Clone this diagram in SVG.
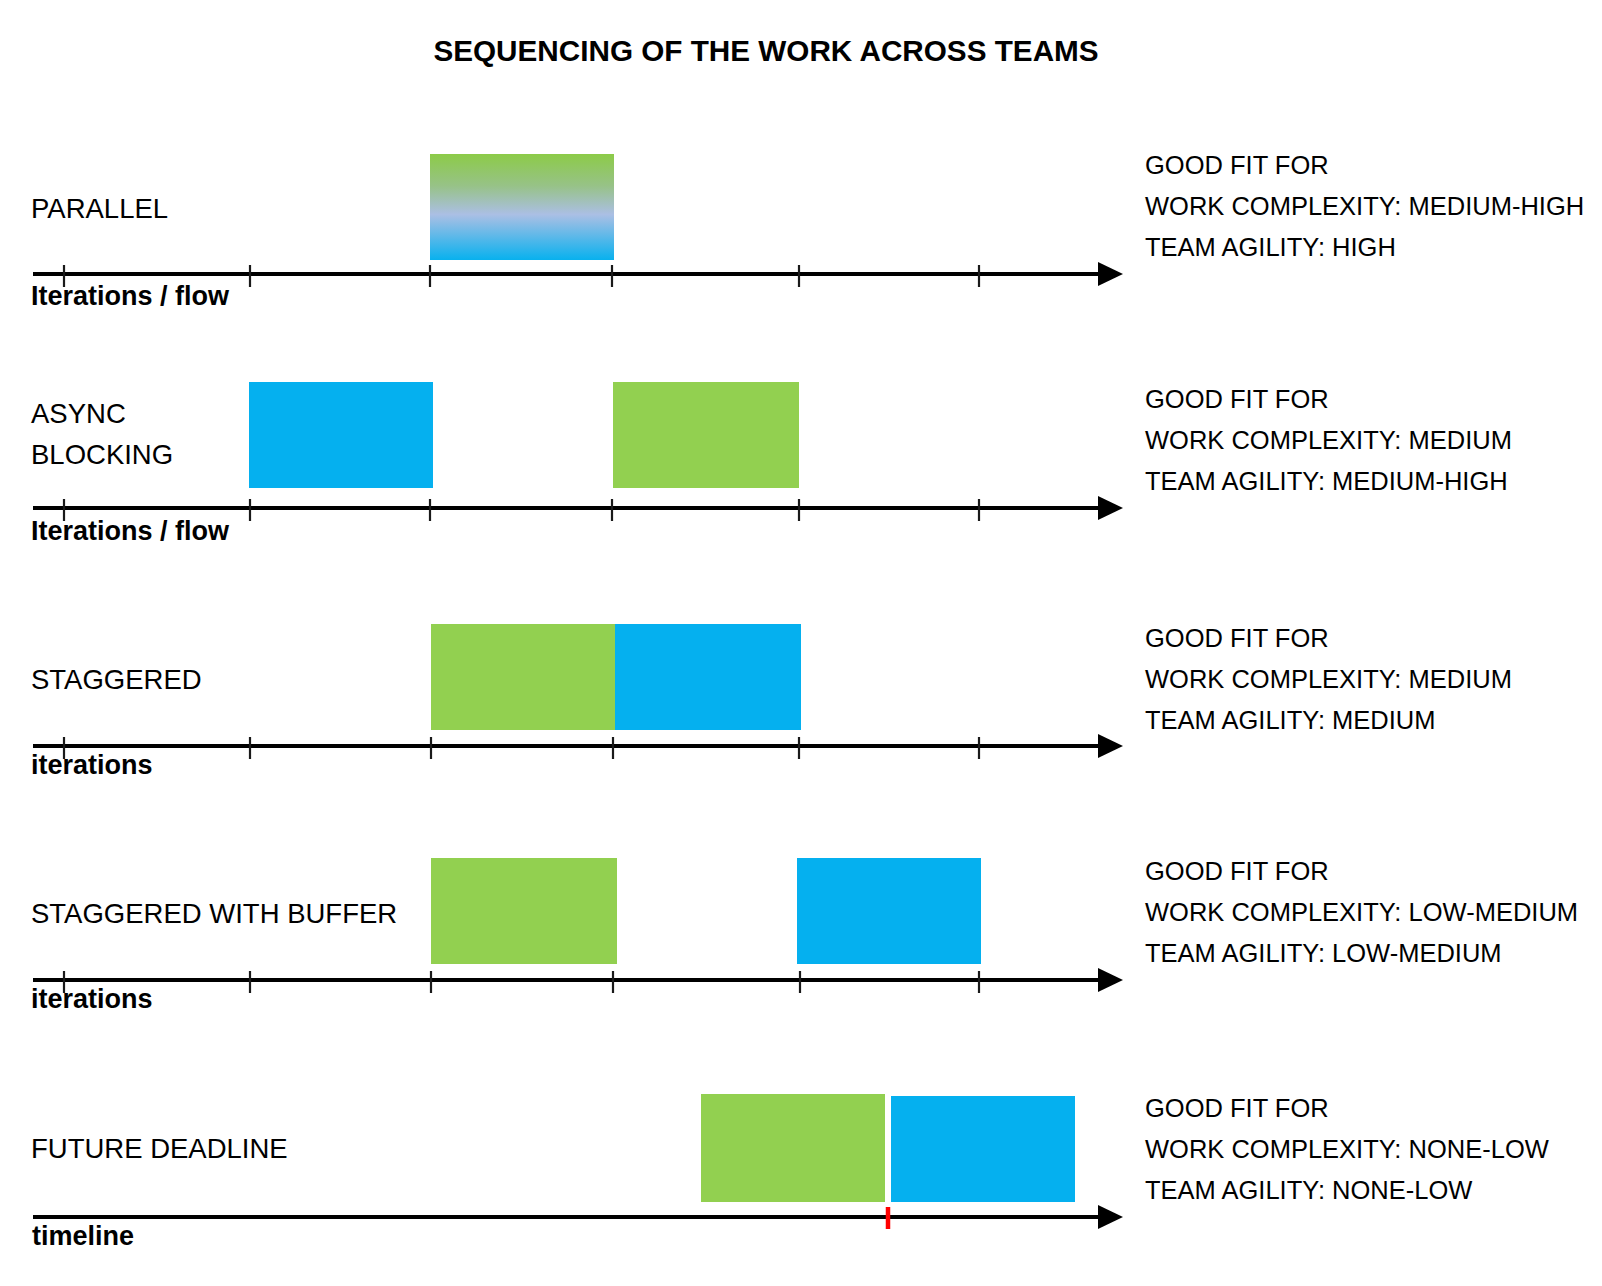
<svg xmlns="http://www.w3.org/2000/svg" width="1602" height="1286" viewBox="0 0 1602 1286">
  <style>
    text { font-family: "Liberation Sans", Arial, sans-serif; fill: #000; }
    .title { font-size: 29.7px; font-weight: bold; text-anchor: middle; }
    .lbl { font-size: 27.5px; }
    .fit { font-size: 25.5px; }
    .ax { font-size: 27px; font-weight: bold; }
    .axis { stroke: #000; stroke-width: 4; fill: none; marker-end: url(#arrow); }
    .tick { stroke: #1a1a1a; stroke-width: 2.2; }
    .green { fill: #92D050; }
    .blue { fill: #05B0EF; }
  </style>
  <defs>
    <linearGradient id="grad" x1="0" y1="0" x2="0" y2="1">
      <stop offset="0" stop-color="#8CCB48"/>
      <stop offset="0.3" stop-color="#97C287"/>
      <stop offset="0.57" stop-color="#ABBFE4"/>
      <stop offset="1" stop-color="#08B1EE"/>
    </linearGradient>
    <marker id="arrow" viewBox="0 0 25 24" refX="2" refY="12" markerWidth="25" markerHeight="24" markerUnits="userSpaceOnUse" orient="auto">
      <path d="M0,0 L25,12 L0,24 Z" fill="#000"/>
    </marker>
  </defs>

  <rect width="1602" height="1286" fill="#fff"/>

  <text class="title" x="766" y="61">SEQUENCING OF THE WORK ACROSS TEAMS</text>

  <g id="connectors">
    <line class="axis" x1="33" y1="274" x2="1100" y2="274"/>
    <line class="axis" x1="33" y1="508" x2="1100" y2="508"/>
    <line class="axis" x1="33" y1="746" x2="1100" y2="746"/>
    <line class="axis" x1="33" y1="980" x2="1100" y2="980"/>
    <line class="axis" x1="33" y1="1217" x2="1100" y2="1217"/>
  </g>

  <g id="row-parallel">
    <rect x="430" y="154" width="184" height="106" fill="url(#grad)"/>
    <text class="lbl" x="31" y="218">PARALLEL</text>
    <g class="ticks">
      <line class="tick" x1="64" y1="265" x2="64" y2="287"/>
      <line class="tick" x1="250" y1="265" x2="250" y2="287"/>
      <line class="tick" x1="430" y1="265" x2="430" y2="287"/>
      <line class="tick" x1="612" y1="265" x2="612" y2="287"/>
      <line class="tick" x1="799" y1="265" x2="799" y2="287"/>
      <line class="tick" x1="979" y1="265" x2="979" y2="287"/>
    </g>
    <text class="ax" x="31" y="305">Iterations / flow</text>
    <text class="fit" x="1145" y="174">GOOD FIT FOR</text>
    <text class="fit" x="1145" y="215">WORK COMPLEXITY: MEDIUM-HIGH</text>
    <text class="fit" x="1145" y="256">TEAM AGILITY: HIGH</text>
  </g>

  <g id="row-async">
    <rect class="blue" x="249" y="382" width="184" height="106"/>
    <rect class="green" x="613" y="382" width="186" height="106"/>
    <text class="lbl" x="31" y="423">ASYNC</text>
    <text class="lbl" x="31" y="464">BLOCKING</text>
    <g class="ticks">
      <line class="tick" x1="64" y1="499" x2="64" y2="521"/>
      <line class="tick" x1="250" y1="499" x2="250" y2="521"/>
      <line class="tick" x1="430" y1="499" x2="430" y2="521"/>
      <line class="tick" x1="612" y1="499" x2="612" y2="521"/>
      <line class="tick" x1="799" y1="499" x2="799" y2="521"/>
      <line class="tick" x1="979" y1="499" x2="979" y2="521"/>
    </g>
    <text class="ax" x="31" y="540">Iterations / flow</text>
    <text class="fit" x="1145" y="408">GOOD FIT FOR</text>
    <text class="fit" x="1145" y="449">WORK COMPLEXITY: MEDIUM</text>
    <text class="fit" x="1145" y="490">TEAM AGILITY: MEDIUM-HIGH</text>
  </g>

  <g id="row-staggered">
    <rect class="green" x="431" y="624" width="184" height="106"/>
    <rect class="blue" x="615" y="624" width="186" height="106"/>
    <text class="lbl" x="31" y="689">STAGGERED</text>
    <g class="ticks">
      <line class="tick" x1="64" y1="737" x2="64" y2="759"/>
      <line class="tick" x1="250" y1="737" x2="250" y2="759"/>
      <line class="tick" x1="431" y1="737" x2="431" y2="759"/>
      <line class="tick" x1="613" y1="737" x2="613" y2="759"/>
      <line class="tick" x1="799" y1="737" x2="799" y2="759"/>
      <line class="tick" x1="979" y1="737" x2="979" y2="759"/>
    </g>
    <text class="ax" x="31" y="774">iterations</text>
    <text class="fit" x="1145" y="647">GOOD FIT FOR</text>
    <text class="fit" x="1145" y="688">WORK COMPLEXITY: MEDIUM</text>
    <text class="fit" x="1145" y="729">TEAM AGILITY: MEDIUM</text>
  </g>

  <g id="row-staggered-buffer">
    <rect class="green" x="431" y="858" width="186" height="106"/>
    <rect class="blue" x="797" y="858" width="184" height="106"/>
    <text class="lbl" x="31" y="923">STAGGERED WITH BUFFER</text>
    <g class="ticks">
      <line class="tick" x1="64" y1="971" x2="64" y2="993"/>
      <line class="tick" x1="250" y1="971" x2="250" y2="993"/>
      <line class="tick" x1="431" y1="971" x2="431" y2="993"/>
      <line class="tick" x1="613" y1="971" x2="613" y2="993"/>
      <line class="tick" x1="800" y1="971" x2="800" y2="993"/>
      <line class="tick" x1="979" y1="971" x2="979" y2="993"/>
    </g>
    <text class="ax" x="31" y="1008">iterations</text>
    <text class="fit" x="1145" y="880">GOOD FIT FOR</text>
    <text class="fit" x="1145" y="921">WORK COMPLEXITY: LOW-MEDIUM</text>
    <text class="fit" x="1145" y="962">TEAM AGILITY: LOW-MEDIUM</text>
  </g>

  <g id="row-future-deadline">
    <rect class="green" x="701" y="1094" width="184" height="108"/>
    <rect class="blue" x="891" y="1096" width="184" height="106"/>
    <text class="lbl" x="31" y="1158">FUTURE DEADLINE</text>
    <line x1="888" y1="1207" x2="888" y2="1229" stroke="#FF0000" stroke-width="4.5"/>
    <text class="ax" x="32" y="1245">timeline</text>
    <text class="fit" x="1145" y="1117">GOOD FIT FOR</text>
    <text class="fit" x="1145" y="1158">WORK COMPLEXITY: NONE-LOW</text>
    <text class="fit" x="1145" y="1199">TEAM AGILITY: NONE-LOW</text>
  </g>
</svg>
